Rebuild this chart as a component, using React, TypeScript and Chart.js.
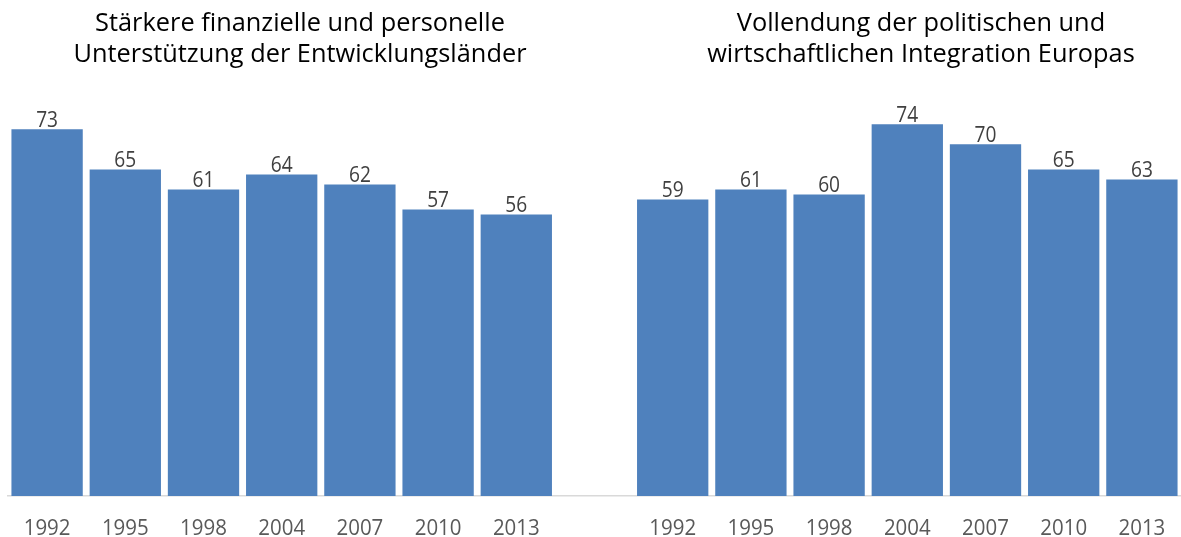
import React, { useEffect, useRef } from "react";
import { Chart, registerables } from "chart.js";

Chart.register(...registerables);

const categories = ["1992", "1995", "1998", "2004", "2007", "2010", "2013", "", "1992", "1995", "1998", "2004", "2007", "2010", "2013"];
const leftValues = [73, 65, 61, 64, 62, 57, 56];
const rightValues = [59, 61, 60, 74, 70, 65, 63];
const leftTitle = ["Stärkere finanzielle und personelle", "Unterstützung der Entwicklungsländer"];
const rightTitle = ["Vollendung der politischen und", "wirtschaftlichen Integration Europas"];

const values: (number | null)[] = [...leftValues, null, ...rightValues];

const FONT = "'Open Sans', 'DejaVu Sans', sans-serif";
const LABEL_SCALE = 0.87;
const TICK_SCALE = 0.91;

const textPlugin = {
  id: "customText",
  afterDatasetsDraw(chart: any) {
    const ctx = chart.ctx;
    const meta = chart.getDatasetMeta(0);
    const xScale = chart.scales.x;
    ctx.save();
    // data labels
    ctx.font = `22px ${FONT}`;
    ctx.fillStyle = "#404040";
    ctx.textAlign = "center";
    ctx.textBaseline = "alphabetic";
    meta.data.forEach((el: any, i: number) => {
      const v = values[i];
      if (v == null) return;
      ctx.save();
      ctx.translate(el.x, el.y - 2.5);
      ctx.scale(LABEL_SCALE, 1);
      ctx.fillText(String(v), 0, 0);
      ctx.restore();
    });
    // tick labels
    ctx.font = `22.5px ${FONT}`;
    ctx.fillStyle = "#595959";
    ctx.textBaseline = "alphabetic";
    categories.forEach((c, i) => {
      if (!c) return;
      const x = xScale.getPixelForValue(i);
      ctx.save();
      ctx.translate(x, xScale.bottom + 39);
      ctx.scale(TICK_SCALE, 1);
      ctx.fillText(c, 0, 0);
      ctx.restore();
    });
    ctx.restore();
  },
};

function Title({ lines, center }: { lines: string[]; center: number }) {
  return (
    <div
      style={{
        position: "absolute",
        left: center - 300,
        top: 5.8,
        width: 600,
        textAlign: "center",
        fontFamily: FONT,
        fontSize: 26,
        lineHeight: "31.6px",
        color: "#000000",
        transform: "scaleX(0.975)",
        transformOrigin: "center",
        whiteSpace: "nowrap",
      }}
    >
      {lines.map((l, i) => (
        <div key={i}>{l}</div>
      ))}
    </div>
  );
}

export default function App() {
  const canvasRef = useRef<HTMLCanvasElement | null>(null);

  useEffect(() => {
    if (!canvasRef.current) return;
    const chart = new Chart(canvasRef.current, {
      type: "bar",
      data: {
        labels: categories,
        datasets: [
          {
            data: values,
            backgroundColor: "#4F81BD",
            borderWidth: 0,
            barPercentage: 0.912,
            categoryPercentage: 1,
          },
        ],
      },
      options: {
        animation: false,
        responsive: false,
        maintainAspectRatio: false,
        layout: { padding: { left: 8, right: 0, top: 94, bottom: 41 } },
        plugins: { legend: { display: false }, tooltip: { enabled: false }, title: { display: false } },
        scales: {
          x: {
            grid: { display: false },
            ticks: { display: false },
            border: { display: true, color: "#D9D9D9", width: 1.5 },
            afterFit: (s: any) => {
              s.height = 0;
            },
          },
          y: { display: false, min: 0, max: 80 },
        },
      },
      plugins: [textPlugin],
    });
    return () => chart.destroy();
  }, []);

  return (
    <div style={{ position: "fixed", left: 0, top: 0, width: 1181, height: 537, background: "#fff", overflow: "hidden" }}>
      <canvas ref={canvasRef} width={1181} height={537} style={{ position: "absolute", left: 0, top: 0 }} />
      <Title lines={leftTitle} center={300} />
      <Title lines={rightTitle} center={921} />
    </div>
  );
}
